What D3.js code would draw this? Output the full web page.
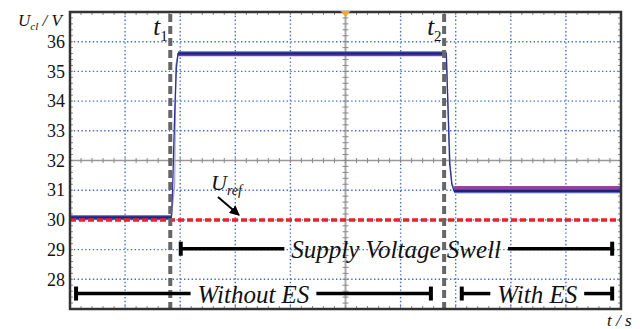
<!DOCTYPE html>
<html>
<head>
<meta charset="utf-8">
<script src="https://cdn.jsdelivr.net/npm/d3@7"></script>
<style>
  body { margin: 0; background: white; }
</style>
</head>
<body>
<script>
// scope screen, 10 divisions in time, volts on y
var yTicks = [28, 29, 30, 31, 32, 33, 34, 35, 36];
var tMarks = [1.82, 6.79];          // t1, t2 (divisions)
var uRef = 30;

// capacitor voltage, two channels (time in divisions, volts)
var blueT = [0, 1.84, 1.86, 1.9, 1.93, 1.96, 6.83, 6.86, 6.89, 6.93, 6.97, 10];
var blueV = [30.08, 30.08, 30.9, 33.6, 35.1, 35.6, 35.6, 33.8, 31.9, 31.2, 30.97, 30.97];
var magT = [0, 1.84, 1.9, 1.92, 1.96, 6.83, 6.86, 6.9, 6.93, 6.97, 10];
var magV = [30.07, 30.07, 31.2, 35.2, 35.58, 35.58, 33.8, 31.9, 31.25, 31.07, 31.07];

// annotation spans
var spanStart = [2.01, 0.11, 7.11];
var spanEnd = [9.84, 6.55, 9.84];
var spanLevel = [29.03, 27.52, 27.52];
var spanMid = [5.92, 3.33, 8.48];
var spanLabel = ["Supply Voltage Swell", "Without ES", "With ES"];

var width = 640, height = 329;
var margin = { top: 12, bottom: 20, left: 70, right: 19 };
var serif = "Liberation Serif";

var svg = d3.select('body').append('svg')
  .attr('width', width)
  .attr('height', height);

var x = d3.scaleLinear().domain([0, 10]).range([margin.left, width - margin.right]);
var y = d3.scaleLinear().domain([27, 37]).range([height - margin.bottom, margin.top]);

// text helper, font set on each element
function label(px, py, size, italic) {
  return svg.append('text').attr('x', px).attr('y', py)
    .attr('font-family', serif).attr('font-size', size)
    .attr('font-style', italic ? 'italic' : 'normal').attr('fill', '#111');
}

var defs = svg.append('defs');
defs.append('marker').attr('id', 'arr')
  .attr('viewBox', '0 0 10 10').attr('refX', 9).attr('refY', 5)
  .attr('markerWidth', 5).attr('markerHeight', 5).attr('orient', 'auto')
  .append('path').attr('d', 'M0,0L10,5L0,10z').attr('fill', '#000');

var x0 = x(0), x1 = x(10), y0 = y(27), y1 = y(37);

// dotted grid
var gridX = d3.range(1, 10).filter(function(d) { return d != 5; });
var gridY = yTicks.filter(function(d) { return d != 32; });
svg.selectAll('.gx').data(gridX).enter().append('line')
  .attr('x1', d => x(d)).attr('x2', d => x(d)).attr('y1', y1).attr('y2', y0)
  .attr('stroke', '#3f6fc8').attr('stroke-width', 1.4).attr('stroke-dasharray', '1.4,2.4');
svg.selectAll('.gy').data(gridY).enter().append('line')
  .attr('x1', x0).attr('x2', x1).attr('y1', d => y(d)).attr('y2', d => y(d))
  .attr('stroke', '#3f6fc8').attr('stroke-width', 1.4).attr('stroke-dasharray', '1.4,2.4');

// center cross lines
svg.append('line').attr('x1', x(5)).attr('x2', x(5)).attr('y1', y1).attr('y2', y0)
  .attr('stroke', '#aaa').attr('stroke-width', 2);
svg.append('line').attr('x1', x0).attr('x2', x1).attr('y1', y(32)).attr('y2', y(32))
  .attr('stroke', '#999').attr('stroke-width', 1.5);

// minor ticks
var minorX = d3.range(0.2, 10, 0.2);
var minorY = d3.range(27.2, 37, 0.2);
var tk = svg.append('g').attr('stroke', '#888').attr('stroke-width', 1);
minorX.forEach(function(d) {
  tk.append('line').attr('x1', x(d)).attr('x2', x(d)).attr('y1', y1).attr('y2', y1 + 3);
  tk.append('line').attr('x1', x(d)).attr('x2', x(d)).attr('y1', y0).attr('y2', y0 - 3);
  tk.append('line').attr('x1', x(d)).attr('x2', x(d)).attr('y1', y(32) - 2.5).attr('y2', y(32) + 2.5);
});
minorY.forEach(function(d) {
  tk.append('line').attr('x1', x0).attr('x2', x0 + 3).attr('y1', y(d)).attr('y2', y(d));
  tk.append('line').attr('x1', x1).attr('x2', x1 - 3).attr('y1', y(d)).attr('y2', y(d));
  tk.append('line').attr('x1', x(5) - 3).attr('x2', x(5) + 3).attr('y1', y(d)).attr('y2', y(d));
});

// traces: thin path for the edges, wider band on the flat (noisy) parts
var line = d3.line().x(d => x(d[0])).y(d => y(d[1]));
var mag = d3.zip(magT, magV), blue = d3.zip(blueT, blueV);
svg.append('path').datum(mag).attr('d', line)
  .attr('fill', 'none').attr('stroke', '#a89ad0').attr('stroke-width', 1.2);
[[0, 2], [4, 6], [9, 11]].forEach(function(s) {
  svg.append('path').datum(mag.slice(s[0], s[1])).attr('d', line)
    .attr('fill', 'none').attr('stroke', '#a0409e').attr('stroke-width', 4);
});
svg.append('path').datum(blue).attr('d', line)
  .attr('fill', 'none').attr('stroke', '#2a3290').attr('stroke-width', 1.3);
[[0, 2], [5, 7], [10, 12]].forEach(function(s) {
  svg.append('path').datum(blue.slice(s[0], s[1])).attr('d', line)
    .attr('fill', 'none').attr('stroke', '#3c4cb4').attr('stroke-width', 4.5).attr('stroke-opacity', 0.85);
  svg.append('path').datum(blue.slice(s[0], s[1])).attr('d', line)
    .attr('fill', 'none').attr('stroke', '#1c2378').attr('stroke-width', 2);
});

// reference voltage
svg.append('line').attr('x1', x0).attr('x2', x1).attr('y1', y(uRef)).attr('y2', y(uRef))
  .attr('stroke', '#e8232b').attr('stroke-width', 3.5).attr('stroke-dasharray', '6,3');

// t1, t2 markers
svg.selectAll('.tm').data(tMarks).enter().append('line')
  .attr('x1', d => x(d)).attr('x2', d => x(d)).attr('y1', y1 + 2).attr('y2', y0)
  .attr('stroke', '#666').attr('stroke-width', 4).attr('stroke-dasharray', '8,4');

// frame
svg.append('rect').attr('x', x0).attr('y', y1).attr('width', x1 - x0).attr('height', y0 - y1)
  .attr('fill', 'none').attr('stroke', '#333').attr('stroke-width', 2.5);

// trigger marker
svg.append('path')
  .attr('d', 'M' + (x(5) - 5) + ',' + (y1 - 1) + 'L' + (x(5) + 5) + ',' + (y1 - 1) + 'L' + x(5) + ',' + (y1 + 5) + 'z')
  .attr('fill', '#f5a623');

// y axis labels
svg.append('g').attr('transform', `translate(${x0},0)`)
  .call(d3.axisLeft(y).tickValues(yTicks).tickSize(0).tickPadding(5))
  .call(g => g.select('.domain').remove())
  .selectAll('text').attr('font-family', serif).attr('font-size', 18).attr('fill', '#111');

// axis titles
var ut = label(18, 26, 17, true);
ut.append('tspan').text('U');
ut.append('tspan').attr('dy', 4).attr('font-size', 11).text('cl');
ut.append('tspan').attr('dy', -4).text(' / V');

label(607, 326, 17, true).text('t / s');

// t1, t2 labels
tMarks.forEach(function(d, i) {
  var t = label(x(d) - 17, 35, 25, true);
  t.append('tspan').text('t');
  t.append('tspan').attr('dy', 6).attr('font-size', 15).attr('font-style', 'normal').text(i + 1);
});

// U_ref label and arrow
var ur = label(211, 190, 22, true);
ur.append('tspan').text('U');
ur.append('tspan').attr('dy', 5).attr('font-size', 14).text('ref');
svg.append('line').attr('x1', 218).attr('y1', 197).attr('x2', 239).attr('y2', 215)
  .attr('stroke', '#000').attr('stroke-width', 2).attr('marker-end', 'url(#arr)');

// spans
spanLabel.forEach(function(lab, i) {
  var a = x(spanStart[i]), b = x(spanEnd[i]), yy = y(spanLevel[i]);
  var mid = x(spanMid[i]);
  var t = label(mid, yy + 9, 25, true).attr('text-anchor', 'middle').text(lab);
  var w = t.node().getComputedTextLength();
  var g = svg.append('g').attr('stroke', '#000');
  g.append('line').attr('x1', a).attr('x2', mid - w / 2 - 7).attr('y1', yy).attr('y2', yy).attr('stroke-width', 3.5);
  g.append('line').attr('x1', mid + w / 2 + 7).attr('x2', b).attr('y1', yy).attr('y2', yy).attr('stroke-width', 3.5);
  g.append('line').attr('x1', a).attr('x2', a).attr('y1', yy - 7).attr('y2', yy + 7).attr('stroke-width', 4);
  g.append('line').attr('x1', b).attr('x2', b).attr('y1', yy - 7).attr('y2', yy + 7).attr('stroke-width', 4);
});
</script>
</body>
</html>
